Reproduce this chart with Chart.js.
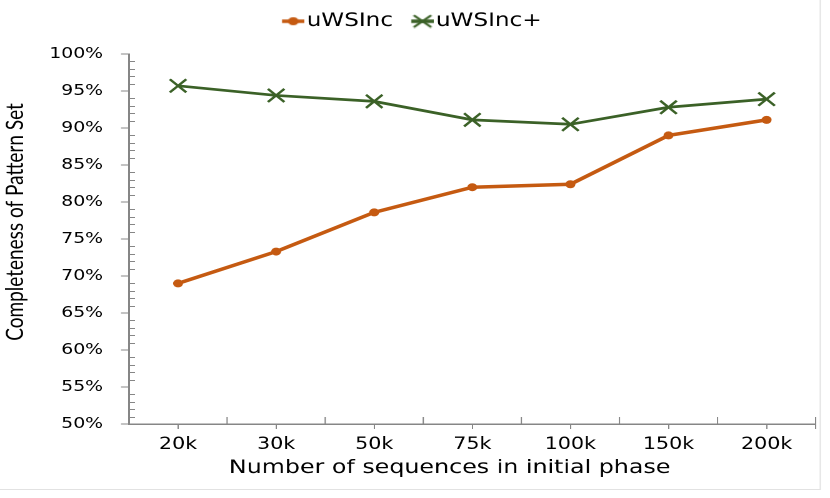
<!DOCTYPE html>
<html>
<head>
<meta charset="utf-8">
<script src="https://cdn.jsdelivr.net/npm/chart.js@4.4.1/dist/chart.umd.min.js"></script>
<style>
  html, body { margin: 0; padding: 0; background: #fff; overflow: hidden; }
  /* the original picture is stretched sideways, so the chart is drawn narrow and widened */
  #chart { display: block; transform: scaleX(1.25); transform-origin: 0 0; }
</style>
</head>
<body>
<canvas id="chart" width="664" height="498"></canvas>
<script>
// values
const categories = ['20k', '30k', '50k', '75k', '100k', '150k', '200k'];
const uwsInc = [69.0, 73.3, 78.6, 82.0, 82.4, 89.0, 91.1];
const uwsIncPlus = [95.7, 94.4, 93.6, 91.1, 90.5, 92.8, 93.9];
const seriesNames = ['uWSInc', 'uWSInc+'];

const orange = '#C55A11';
const green = '#3B6127';
const axisColor = '#868686';
const mainFont = '"DejaVu Sans", Verdana, sans-serif';

// line + marker image for legend entries, drawn in the right 18px
function legendIcon(color, marker) {
  const c = document.createElement('canvas');
  c.width = 30; c.height = 14;
  const g = c.getContext('2d');
  g.strokeStyle = color;
  g.lineWidth = 3.5;
  g.beginPath(); g.moveTo(12, 7); g.lineTo(30, 7); g.stroke();
  if (marker === 'circle') {
    g.fillStyle = color;
    g.beginPath(); g.arc(21, 7, 4, 0, Math.PI * 2); g.fill();
  } else {
    g.lineWidth = 2;
    g.beginPath();
    g.moveTo(14, 1); g.lineTo(28, 13);
    g.moveTo(28, 1); g.lineTo(14, 13);
    g.stroke();
  }
  return c;
}

// inner ticks: category boundaries on x, minor 1% steps on y, plus light frame
const extraTicks = {
  id: 'extraTicks',
  afterDraw(chart) {
    const ctx = chart.ctx;
    const x = chart.scales.x, y = chart.scales.y;
    const area = chart.chartArea;
    ctx.save();
    ctx.strokeStyle = axisColor;
    ctx.lineWidth = 1;
    ctx.beginPath();
    for (let i = 0; i <= categories.length; i++) {
      const px = x.getPixelForValue(i - 0.5);
      ctx.moveTo(px, area.bottom);
      ctx.lineTo(px, area.bottom - 7);
    }
    const px = x.getPixelForValue(categories.length - 0.5);
    ctx.moveTo(px, area.bottom);
    ctx.lineTo(px, area.bottom + 5);
    for (let v = 51; v < 100; v++) {
      if (v % 5 === 0) continue;
      const py = Math.round(y.getPixelForValue(v)) + 0.5;
      ctx.moveTo(area.left, py);
      ctx.lineTo(area.left + 4.8, py);
    }
    ctx.stroke();
    ctx.strokeStyle = '#e2e2e2';
    ctx.beginPath();
    ctx.moveTo(656.2, 0); ctx.lineTo(656.2, 489.5); ctx.lineTo(0, 489.5);
    ctx.stroke();
    ctx.restore();
  }
};

const ctx = document.getElementById('chart').getContext('2d');
new Chart(ctx, {
  type: 'line',
  data: {
    labels: categories,
    datasets: [{
      label: seriesNames[0],
      data: uwsInc,
      borderColor: orange,
      backgroundColor: orange,
      borderWidth: 3.5,
      pointStyle: 'circle',
      pointRadius: 4,
      pointBorderWidth: 0,
      pointBackgroundColor: orange,
      fill: false
    }, {
      label: seriesNames[1],
      data: uwsIncPlus,
      borderColor: green,
      backgroundColor: green,
      borderWidth: 2.75,
      pointStyle: 'crossRot',
      pointRadius: 9.3,
      pointBorderWidth: 2.2,
      pointBorderColor: green,
      fill: false
    }]
  },
  options: {
    responsive: false,
    devicePixelRatio: 2,
    animation: false,
    layout: { padding: { left: 0, right: 9.6, top: 2, bottom: 0 } },
    plugins: {
      tooltip: { enabled: false },
      legend: {
        position: 'top',
        labels: {
          usePointStyle: true,
          pointStyleWidth: 15,
          padding: 10,
          color: '#000',
          font: { family: mainFont, size: 18.5 },
          generateLabels() {
            return [
              { text: seriesNames[0], pointStyle: legendIcon(orange, 'circle'), datasetIndex: 0, fillStyle: orange, strokeStyle: orange, lineWidth: 0 },
              { text: seriesNames[1], pointStyle: legendIcon(green, 'x'), datasetIndex: 1, fillStyle: green, strokeStyle: green, lineWidth: 0 }
            ];
          }
        }
      },
      // blank spacer between legend and plot
      subtitle: {
        display: true,
        text: ' ',
        weight: 500,
        font: { size: 1 },
        padding: { top: 0, bottom: 12.3 }
      }
    },
    scales: {
      x: {
        offset: true,
        grid: {
          offset: false,
          drawOnChartArea: false,
          drawTicks: true,
          tickLength: 5,
          color: axisColor
        },
        border: { color: axisColor, width: 1.5 },
        ticks: {
          color: '#000',
          padding: 6,
          font: { family: mainFont, size: 16.5 }
        },
        title: {
          display: true,
          text: 'Number of sequences in initial phase      ',
          color: '#000',
          padding: { top: 2, bottom: 18.6 },
          font: { family: mainFont, size: 19 }
        },
        afterFit(scale) { scale.height = 74; }
      },
      y: {
        min: 50,
        max: 100,
        grid: {
          drawOnChartArea: false,
          tickLength: 6.4,
          color: axisColor
        },
        border: { color: axisColor, width: 1.5 },
        ticks: {
          stepSize: 5,
          color: '#000',
          padding: 14.4,
          font: { family: mainFont, size: 15 },
          callback: v => v + '%'
        },
        title: {
          display: true,
          text: '       Completeness of Pattern Set',
          color: '#000',
          padding: { top: 1, bottom: 0 },
          font: { family: 'Lato, "Open Sans", sans-serif', size: 19 }
        },
        afterFit(scale) { scale.width = 103.2; }
      }
    }
  },
  plugins: [extraTicks]
});
</script>
</body>
</html>
